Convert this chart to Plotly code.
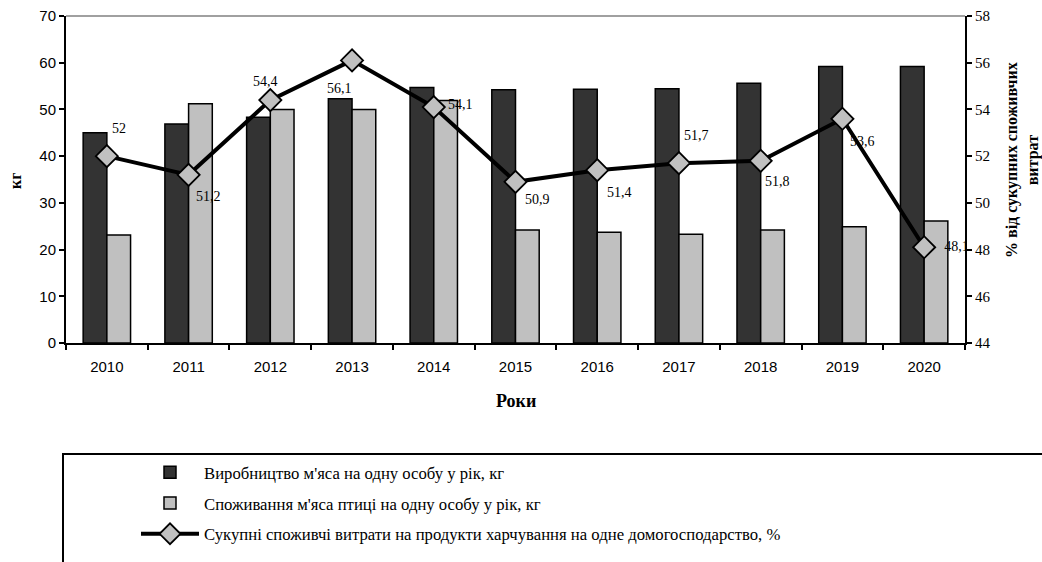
import plotly.graph_objects as go

years = ["2010", "2011", "2012", "2013", "2014", "2015", "2016", "2017", "2018", "2019", "2020"]
production = [45.0, 46.9, 48.3, 52.3, 54.7, 54.2, 54.3, 54.4, 55.6, 59.2, 59.2]
poultry = [23.1, 51.2, 50.0, 50.0, 51.9, 24.2, 23.7, 23.3, 24.2, 24.9, 26.1]
food_share = [52.0, 51.2, 54.4, 56.1, 54.1, 50.9, 51.4, 51.7, 51.8, 53.6, 48.1]

# label offsets in pixels (dx right, dy down); None = drawn by the trace itself (clipped at axis)
label_dx = [12, 20, -5, -13, 27, 22, 22, 18, 17, 20, None]
label_dy = [-28, 22, -19, 28, -3, 18, 22, -28, 21, 23, None]

W, H = 1042, 562
L, R, T, B = 66, 965, 16, 343
pw, ph = R - L, B - T

def px_x(x):
    return (x - L) / pw

def px_y(y):
    return (B - y) / ph

serif = "Liberation Serif"
sans = "Liberation Sans"

def fmt(v):
    s = f"{v:.1f}".replace(".", ",")
    return s[:-2] if s.endswith(",0") else s

labels = [fmt(v) for v in food_share]
trace_text = [("\u2009\u2009\u2009" + t) if dx is None else "" for t, dx in zip(labels, label_dx)]

fig = go.Figure()
fig.add_trace(go.Bar(
    x=years, y=production, name="Виробництво м'яса на одну особу у рік, кг",
    marker=dict(color="#333333", line=dict(color="black", width=1.5)),
    legendgroup="a",
))
fig.add_trace(go.Bar(
    x=years, y=poultry, name="Споживання м'яса птиці на одну особу у рік, кг",
    marker=dict(color="#c0c0c0", line=dict(color="black", width=1.5)),
    legendgroup="b",
))
fig.add_trace(go.Scatter(
    x=years, y=food_share, yaxis="y2", mode="lines+markers+text",
    name="Сукупні споживчі витрати на продукти харчування на одне домогосподарство, %",
    line=dict(color="black", width=4),
    marker=dict(symbol="diamond", size=17, color="#c0c0c0", line=dict(color="black", width=1.8)),
    text=trace_text,
    textposition="middle right",
    textfont=dict(family=serif, size=14, color="black"),
    cliponaxis=True,
    legendgroup="c",
))

annotations = []
for i, (v, t, dx, dy) in enumerate(zip(food_share, labels, label_dx, label_dy)):
    if dx is None:
        continue
    annotations.append(dict(
        x=i, y=v, xref="x", yref="y2", text=t, showarrow=False,
        xanchor="center", yanchor="middle", xshift=dx, yshift=-dy,
        font=dict(family=serif, size=14, color="black"),
    ))

annotations += [
    dict(text="<b>кг</b>", xref="paper", yref="paper", x=px_x(15), y=px_y(181),
         xanchor="center", yanchor="middle",
         showarrow=False, textangle=-90, font=dict(family=serif, size=16, color="black")),
    dict(text="<b>% від сукупних споживчих<br>витрат</b>", xref="paper", yref="paper",
         x=px_x(1022), y=px_y(160), xanchor="center", yanchor="middle",
         showarrow=False, textangle=-90,
         font=dict(family=serif, size=16, color="black")),
    dict(text="<b>Роки</b>", xref="paper", yref="paper", x=px_x(516), y=px_y(401),
         xanchor="center", yanchor="middle",
         showarrow=False, font=dict(family=serif, size=18, color="black")),
]

fig.update_layout(
    width=W, height=H,
    margin=dict(l=L, r=W - R, t=T, b=H - B, autoexpand=False),
    plot_bgcolor="white", paper_bgcolor="white",
    barmode="group", bargap=0.42, bargroupgap=0,
    showlegend=True,
    legend=dict(
        x=px_x(136), y=px_y(455), xanchor="left", yanchor="top",
        orientation="v", font=dict(family=serif, size=16.7, color="black"),
        bgcolor="rgba(0,0,0,0)", borderwidth=0, tracegroupgap=6,
        itemwidth=58, traceorder="grouped",
    ),
    xaxis=dict(
        type="category", range=[-0.5, len(years) - 0.5],
        showline=True, linecolor="black", linewidth=2,
        ticks="outside", ticklen=5, tickwidth=2, tickcolor="black", tickson="boundaries",
        tickfont=dict(family=sans, size=15, color="black"), ticklabelstandoff=9,
        showgrid=False, zeroline=False,
    ),
    yaxis=dict(
        range=[0, 70], dtick=10, showline=True, linecolor="black", linewidth=2,
        ticks="outside", ticklen=5, tickwidth=2, tickcolor="black",
        tickfont=dict(family=sans, size=15, color="black"),
        showgrid=False, zeroline=False,
    ),
    yaxis2=dict(
        range=[44, 58], dtick=2, overlaying="y", side="right",
        showline=True, linecolor="black", linewidth=2,
        ticks="outside", ticklen=5, tickwidth=2, tickcolor="black",
        tickfont=dict(family=serif, size=15, color="black"),
        showgrid=False, zeroline=False,
    ),
    shapes=[
        dict(type="line", xref="paper", yref="paper", x0=0, x1=1, y0=1, y1=1,
             line=dict(color="#a0a0a0", width=2)),
        dict(type="rect", xref="paper", yref="paper", x0=px_x(63), x1=px_x(1060),
             y0=px_y(580), y1=px_y(454), line=dict(color="black", width=2)),
    ],
    annotations=annotations,
)

fig.write_html("out.html", config={"displayModeBar": False},
               post_script="document.body.style.margin='0';document.body.style.overflow='hidden';")
